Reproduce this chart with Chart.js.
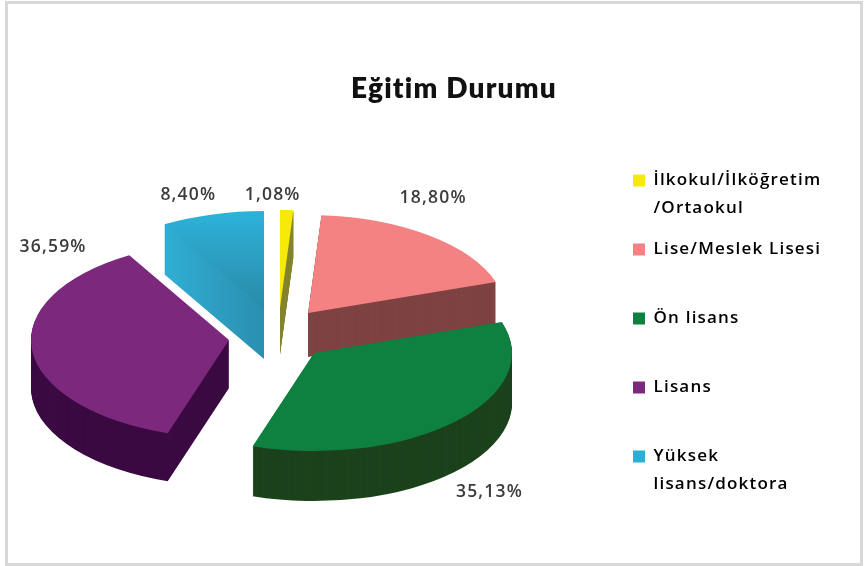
<!DOCTYPE html>
<html><head><meta charset="utf-8">
<style>
html,body{margin:0;padding:0;background:#fff;width:864px;height:566px;overflow:hidden}
#frame{position:absolute;left:5px;top:1px;width:852px;height:559px;border:3px solid #d8d8d8}
#c{position:absolute;left:0;top:0;filter:blur(0.5px)}
</style>
<script src="https://cdn.jsdelivr.net/npm/chart.js@4"></script>
</head><body>
<div id="frame"></div>
<canvas id="c" width="864" height="566" style="width:864px;height:566px"></canvas>
<script>
const chartTitle = 'Eğitim Durumu';
const categories = ['İlkokul/İlköğretim\n/Ortaokul','Lise/Meslek Lisesi','Ön lisans','Lisans','Yüksek\nlisans/doktora'];
const values = [1.08, 18.80, 35.13, 36.59, 8.40];
const topColors = ['#f8ea08','#f48282','#0e8040','#7c287c','#2eaed4'];
const wallColors = ['#85852e','#7f4242','#1c421c','#3b0a42','#2a90b0'];

const pie3d = {
  id:'pie3d',
  afterLayout(chart){
    const l = chart.legend, h = l.bottom - l.top;
    l.left = 619; l.right = 864; l.top = 158; l.bottom = 158 + h + 40;
  },
  beforeDraw(chart){ chart.ctx.letterSpacing = '1.2px'; },
  place(ctx, arc, i, k, o){
    ctx.translate(o.apex[i][0], o.apex[i][1] + k);
    ctx.scale(1, o.squash);
    ctx.translate(-arc.x, -arc.y);
  },
  beforeDatasetDraw(chart, args, o){
    const ctx = chart.ctx, data = args.meta.data;
    for (const i of o.order){
      const arc = data[i], base = arc.options, R = arc.outerRadius;
      let wall = wallColors[i], top = topColors[i];
      if (i === 4){
        wall = ctx.createLinearGradient(arc.x-100,0,arc.x,0);
        wall.addColorStop(0,'#30aed4'); wall.addColorStop(1,'#2a8fb0');
        top = ctx.createLinearGradient(0,arc.y-R,0,arc.y);
        top.addColorStop(0,'#2db2da'); top.addColorStop(1,'#2a8aa8');
      }
      arc.options = Object.assign({}, base, {backgroundColor:wall, borderWidth:0});
      for (let k = o.depth[i]; k >= 1; k--){
        ctx.save(); this.place(ctx,arc,i,k,o); arc.draw(ctx); ctx.restore();
      }
      arc.options = Object.assign({}, base, {backgroundColor:top, borderWidth:0});
      ctx.save(); this.place(ctx,arc,i,0,o); arc.draw(ctx); ctx.restore();
      arc.options = base;
    }
    return false;
  },
  afterDatasetsDraw(chart, args, o){
    const ctx = chart.ctx, data = chart.getDatasetMeta(0).data;
    ctx.save();
    ctx.font = o.labelFont; ctx.fillStyle = o.labelColor;
    ctx.textAlign = 'center'; ctx.textBaseline = 'middle';
    data.forEach((arc,i)=>{
      const mid = (arc.startAngle + arc.endAngle)/2, r = arc.outerRadius;
      const x = o.apex[i][0] + Math.cos(mid)*r + o.labelNudge[i][0];
      const y = o.apex[i][1] + Math.sin(mid)*r*o.squash + o.labelNudge[i][1];
      ctx.fillText(values[i].toFixed(2).replace('.',',') + '%', x, y);
    });
    ctx.restore();
  }
};

new Chart(document.getElementById('c'), {
  type:'pie',
  data:{labels:categories, datasets:[{data:values, backgroundColor:topColors, borderWidth:0}]},
  plugins:[pie3d],
  options:{
    responsive:false, animation:false, radius:198,
    layout:{padding:{left:44,top:0,right:0,bottom:0}},
    plugins:{
      tooltip:{enabled:false},
      title:{display:true, text:chartTitle, color:'#111', padding:{top:72,bottom:0},
        font:{family:'Lato',size:28,weight:'800',lineHeight:1.2}},
      legend:{position:'right', align:'start',
        labels:{boxWidth:12, boxHeight:12, padding:14, color:'#333',
          font:{family:'Open Sans',size:17,weight:'600',lineHeight:'27.5px'},
          generateLabels(chart){
            return categories.map((c,i)=>{
              const lines = c.split('\n'); if (lines.length<2) lines.push('');
              return {text:lines, fillStyle:topColors[i], strokeStyle:topColors[i], lineWidth:0, hidden:false, index:i};
            });
          }}},
      pie3d:{squash:0.495, order:[1,0,4,3,2],
        apex:[[280,308],[308,313],[314,353],[229,340],[264,309]],
        depth:[47,44,50,48,50],
        labelFont:'600 17.5px "Open Sans"', labelColor:'#3c3c3c',
        labelNudge:[[-14,-15],[4,-37],[35,70],[21,-103],[-24,-19]]}
    }
  }
});
</script>
</body></html>
